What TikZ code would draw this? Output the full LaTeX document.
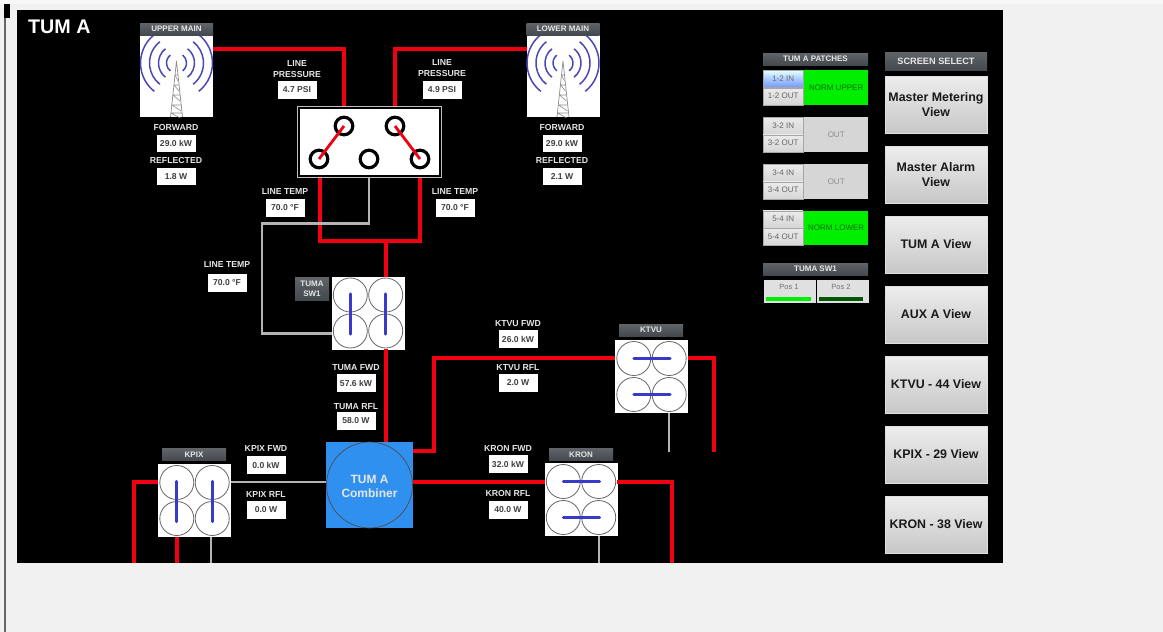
\documentclass[tikz,border=0pt]{standalone}
\usepackage{fontspec}
\setmainfont{Liberation Sans}
\definecolor{pagebg}{HTML}{F1F1F1}
\definecolor{wirered}{HTML}{F00010}
\definecolor{wiregray}{HTML}{B4B4B4}
\definecolor{barblue}{HTML}{3A3AC8}
\definecolor{arcblue}{HTML}{4A48B4}
\definecolor{headgray}{HTML}{44494F}
\definecolor{labelwhite}{HTML}{E6E6E6}
\definecolor{combblue}{HTML}{3090F0}
\definecolor{patchgreen}{HTML}{00EE00}
\tikzset{
  x=1pt,y=-1pt,
  wire/.style={draw=wirered,line width=3.2pt,line join=miter},
  graywire/.style={draw=wiregray,line width=2.4pt,line join=miter},
  lab/.style={text=labelwhite,font=\fontsize{8.7}{11}\selectfont\bfseries,inner sep=0pt,align=center},
  valbox/.style={fill=white,minimum width=39pt,minimum height=17.5pt,inner sep=0pt,text=black!75,font=\fontsize{8.6}{10}\selectfont\bfseries},
  head/.style={top color=headgray!85!white,bottom color=headgray,draw=none,inner sep=0pt,text=labelwhite,font=\fontsize{8}{10}\selectfont\bfseries,align=center},
  iconbox/.style={fill=white,draw=none,inner sep=0pt,minimum width=73pt,minimum height=73pt},
  towerbox/.style={fill=white,draw=none,inner sep=0pt,minimum width=73pt,minimum height=82pt},
  ring/.style={draw=black!60,line width=0.8pt},
  bar/.style={draw=barblue,line width=3.2pt,line cap=round},
  port/.style={draw=black,line width=3.2pt},
  screenbtn/.style={top color=white!93!black,bottom color=white!78!black,draw=white!88!black,line width=.8pt,minimum width=102pt,minimum height=57pt,inner sep=0pt,align=center,text=black!90,font=\fontsize{12.4}{15}\selectfont\bfseries},
  patchbtn/.style={top color=white!92!black,bottom color=white!84!black,draw=black!35,line width=.3pt,minimum width=40pt,minimum height=17pt,inner sep=0pt,text=black!60,font=\fontsize{8}{10}\selectfont},
  patchstate/.style={fill=white!84!black,minimum width=64pt,minimum height=34.5pt,inner sep=0pt,text=black!45,font=\fontsize{8}{10}\selectfont},
  posbox/.style={fill=white!88!black,minimum width=52pt,minimum height=23pt,inner sep=0pt,anchor=north west},
  postext/.style={text=black!55,inner sep=0pt,font=\fontsize{7.5}{9}\selectfont},
}
\newcommand{\towericon}[3]{% name, centre x, top y of body
  \node[towerbox,anchor=north] (#1) at (#2,#3) {};
  \begin{scope}
    \clip (#1.south west) rectangle (#1.north east);
    \foreach \r in {10,18,27,36}{
      \draw[arcblue,line width=1.5pt] ([shift={(128:\r pt)}]#2,#3+28) arc[start angle=128,end angle=232,radius=\r pt];
      \draw[arcblue,line width=1.5pt] ([shift={(-52:\r pt)}]#2,#3+28) arc[start angle=-52,end angle=52,radius=\r pt];
    }
    \draw[black!45,line width=.7pt] (#2,#3+26) -- (#2-6,#3+82) (#2,#3+26) -- (#2+6,#3+82);
    \foreach \d/\w in {40/1.5,50/2.5,60/3.5,70/4.5,78/5.5}{
      \draw[black!45,line width=.6pt] (#2-\w,#3+\d) -- (#2+\w,#3+\d) (#2-\w,#3+\d) -- (#2+\w,#3+\d+6);
    }
  \end{scope}
}
\newcommand{\rfswitch}[4]{% name, cx, cy, orientation v/h
  \node[iconbox] (#1) at (#2,#3) {};
  \foreach \sx in {-1,1}\foreach \sy in {-1,1}
    \draw[ring,fill=white] (#2+\sx*17.7,#3+\sy*18) circle[radius=17pt];
  \if#4v
    \draw[bar] (#2-17.7,#3-19) -- (#2-17.7,#3+21);
    \draw[bar] (#2+17.7,#3-19) -- (#2+17.7,#3+21);
  \else
    \draw[bar] (#2-17.5,#3-18) -- (#2+18.5,#3-18);
    \draw[bar] (#2-17.5,#3+18) -- (#2+18.5,#3+18);
  \fi
}
\newcommand{\patch}[6]{% prefix, top y, in, out, state text, state style
  \node[patchbtn,anchor=north west] (#1i) at (763,#2) {#3};
  \node[patchbtn,anchor=north west] (#1o) at (763,#2+17.5) {#4};
  \node[patchstate,anchor=north west,#6] (#1s) at (804,#2) {#5};
}
\begin{document}
\begin{tikzpicture}
\useasboundingbox (0,0) rectangle (1163,632);
\fill[pagebg] (0,0) rectangle (1163,632);
\fill[white!97!black] (0,0) rectangle (1163,4);
\fill[black] (17,10) rectangle (1003,563);
\fill[black] (4,4) rectangle (10,18);
\fill[black!60] (4,18) rectangle (6,632);

\node[anchor=west,text=white,inner sep=0pt,font=\fontsize{19.7}{22}\selectfont\bfseries] (title) at (28,27) {TUM A};

% towers
\towericon{upper}{176.5}{35}
\towericon{lower}{563}{35}
\node[head,minimum width=73pt,minimum height=12pt] (upperh) at (176.5,29) {UPPER MAIN};
\node[head,minimum width=73pt,minimum height=12pt] (lowerh) at (563,29) {LOWER MAIN};

% patch box
\node[fill=white,minimum width=139pt,minimum height=66pt,inner sep=0pt,outer sep=0pt] (patchbox) at (369.5,142) {};
\draw[white!75!black,line width=1pt] (297.5,106.5) rectangle (441.5,177.5);
\coordinate (pa) at (344,126);
\coordinate (pb) at (395,126);
\coordinate (pc) at (319,159);
\coordinate (pd) at (369,159);
\coordinate (pe) at (420,159);

% switches
\rfswitch{sw}{368}{313}{v}
\rfswitch{kpix}{194.5}{500.5}{v}
\rfswitch{ktvu}{651.5}{376.5}{h}
\rfswitch{kron}{581}{499.5}{h}

% combiner
\node[fill=combblue,minimum width=87pt,minimum height=86pt,inner sep=0pt] (comb) at (369.5,485) {};
\node[draw=black!70,line width=.7pt,circle,minimum size=86pt,inner sep=0pt] (combc) at (369.5,485) {};
\node[text=labelwhite,inner sep=0pt,align=center,font=\fontsize{12}{13.5}\selectfont\bfseries] (combt) at (369.5,486.5) {TUM A\\Combiner};

% wires
\coordinate (uport) at (213,49);
\coordinate (lport) at (527,49);
\coordinate (ptop1) at (344,106);
\coordinate (ptop2) at (395,106);
\coordinate (pbot1) at (320,178);
\coordinate (pbot2) at (369,178);
\coordinate (pbot3) at (420,178);
\coordinate (jn) at (386,241);
\coordinate (swt) at (386,277);
\coordinate (swb) at (386,349);
\coordinate (cbt) at (386,442);
\draw[wire] (uport) -| (ptop1);
\draw[wire] (lport) -| (ptop2);
\draw[wire] (pbot1) |- (pbot3 |- jn) -- (pbot3);
\draw[wire] (jn) -- (swt);
\draw[wire] (swb) -- (cbt);
\draw[graywire] (pbot2) -- (369,223.5) -- (262,223.5) -- (262,333.5) -- (332,333.5);

\draw[wire] (413,451) -- (434,451) -- (434,358) -- (615,358);
\draw[wire] (688,358) -- (714,358) -- (714,452);
\draw[graywire] (669,413) -- (669,452);
\draw[wire] (413,482) -- (545,482);
\draw[wire] (617,482) -- (672,482) -- (672,563);
\draw[graywire] (599,536) -- (599,563);
\draw[wire] (158,482) -- (134,482) -- (134,563);
\draw[wire] (177,537) -- (177,563);
\draw[graywire] (211,537) -- (211,563);
\draw[graywire] (231,482) -- (326,482);

% patch box ports and links
\foreach \p in {pa,pb,pc,pd,pe}{\draw[port] (\p) circle[radius=8.8pt];}
\draw[wirered,line width=2.8pt] (pa) -- (pc) (pb) -- (pe);

% switch headers
\node[head,minimum width=34pt,minimum height=23pt] (swh) at (312,288.5) {TUMA\\SW1};
\node[head,minimum width=64pt,minimum height=12pt] (kpixh) at (194,454.5) {KPIX};
\node[head,minimum width=64pt,minimum height=12pt] (ktvuh) at (651,330) {KTVU};
\node[head,minimum width=64pt,minimum height=12pt] (kronh) at (581,454.5) {KRON};

% labels and values
\node[lab] (l1) at (176,128) {FORWARD};
\node[valbox] (v1) at (176,143.5) {29.0 kW};
\node[lab] (l2) at (176,161) {REFLECTED};
\node[valbox] (v2) at (176,176.5) {1.8 W};
\node[lab] (l3) at (562,128) {FORWARD};
\node[valbox] (v3) at (562,143.5) {29.0 kW};
\node[lab] (l4) at (562,161) {REFLECTED};
\node[valbox] (v4) at (562,176.5) {2.1 W};
\node[lab] (l5) at (297,69) {LINE\\PRESSURE};
\node[valbox] (v5) at (297,90) {4.7 PSI};
\node[lab] (l6) at (442,68.5) {LINE\\PRESSURE};
\node[valbox] (v6) at (442,90) {4.9 PSI};
\node[lab] (l7) at (285,192) {LINE TEMP};
\node[valbox] (v7) at (285,208) {70.0 °F};
\node[lab] (l8) at (455,192) {LINE TEMP};
\node[valbox] (v8) at (455,208) {70.0 °F};
\node[lab] (l9) at (227,265) {LINE TEMP};
\node[valbox] (v9) at (227,283) {70.0 °F};
\node[lab] (l10) at (356,368) {TUMA FWD};
\node[valbox] (v10) at (356,383) {57.6 kW};
\node[lab] (l11) at (356,407) {TUMA RFL};
\node[valbox] (v11) at (356,421) {58.0 W};
\node[lab] (l12) at (266,449) {KPIX FWD};
\node[valbox] (v12) at (266,465) {0.0 kW};
\node[lab] (l13) at (266,495) {KPIX RFL};
\node[valbox] (v13) at (266,510) {0.0 W};
\node[lab] (l14) at (518,324) {KTVU FWD};
\node[valbox] (v14) at (518,339) {26.0 kW};
\node[lab] (l15) at (518,368) {KTVU RFL};
\node[valbox] (v15) at (518,383) {2.0 W};
\node[lab] (l16) at (508,449) {KRON FWD};
\node[valbox] (v16) at (508,464) {32.0 kW};
\node[lab] (l17) at (508,494) {KRON RFL};
\node[valbox] (v17) at (508,510) {40.0 W};

% patches
\node[head,minimum width=105pt,minimum height=12pt] (ph) at (815.5,59) {TUM A PATCHES};
\patch{a}{70}{1-2 IN}{1-2 OUT}{NORM UPPER}{fill=patchgreen,text=black!55!patchgreen}
\patch{b}{117}{3-2 IN}{3-2 OUT}{OUT}{}
\patch{c}{164}{3-4 IN}{3-4 OUT}{OUT}{}
\patch{d}{210.5}{5-4 IN}{5-4 OUT}{NORM LOWER}{fill=patchgreen,text=black!55!patchgreen}
\node[patchbtn,anchor=north west,top color=white!90!cyan,bottom color=white!75!cyan!60!blue] (a1i) at (763,70) {1-2 IN};

\node[head,minimum width=105pt,minimum height=12pt] (sh) at (815.5,269) {TUMA SW1};
\node[posbox] (pos1) at (763.5,280) {};
\node[posbox] (pos2) at (816.5,280) {};
\node[postext] (pos1t) at (789,287) {Pos 1};
\node[postext] (pos2t) at (841,287) {Pos 2};
\fill[patchgreen] (766,296.5) rectangle (811,300.5);
\fill[green!35!black] (819,296.5) rectangle (863,300.5);

% screen select
\node[head,minimum width=102pt,minimum height=18pt,font=\fontsize{9.2}{11}\selectfont\bfseries] (scr) at (936,61) {SCREEN SELECT};
\node[screenbtn] (b1) at (936,104.5) {Master Metering\\View};
\node[screenbtn] (b2) at (936,174.5) {Master Alarm\\View};
\node[screenbtn] (b3) at (936,244.5) {TUM A View};
\node[screenbtn] (b4) at (936,314.5) {AUX A View};
\node[screenbtn] (b5) at (936,384.5) {KTVU - 44 View};
\node[screenbtn] (b6) at (936,454.5) {KPIX - 29 View};
\node[screenbtn] (b7) at (936,524.5) {KRON - 38 View};
\end{tikzpicture}
\end{document}
